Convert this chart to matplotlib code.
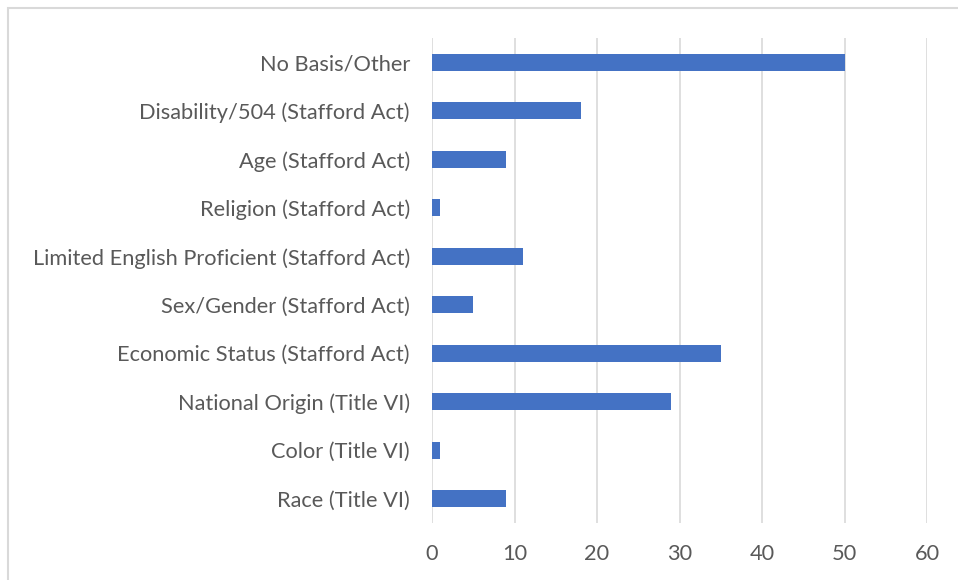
import matplotlib.pyplot as plt
from matplotlib.patches import Rectangle

categories = ["Race (Title VI)", "Color (Title VI)", "National Origin (Title VI)",
              "Economic Status (Stafford Act)", "Sex/Gender (Stafford Act)",
              "Limited English Proficient (Stafford Act)", "Religion (Stafford Act)",
              "Age (Stafford Act)", "Disability/504 (Stafford Act)", "No Basis/Other"]
counts = [9, 1, 29, 35, 5, 11, 1, 9, 18, 50]
xticks = [0, 10, 20, 30, 40, 50, 60]

plt.rcParams['font.family'] = ['Lato', 'DejaVu Sans']

fig = plt.figure(figsize=(9.58, 5.8), dpi=100)
ax = fig.add_axes([432/958, 1-523/580, (927-432)/958, (523-38)/580])

ax.barh(range(len(categories)), counts, height=0.36, color='#4472C4', zorder=3)

ax.set_xlim(0, 60)
ax.set_ylim(-0.5, len(categories)-0.5)
ax.set_xticks(xticks)
ax.set_yticks(range(len(categories)))
ax.set_yticklabels(categories)
ax.xaxis.grid(True, color='#D9D9D9', linewidth=1.2, zorder=0)
for s in ax.spines.values():
    s.set_visible(False)
ax.tick_params(axis='both', length=0, colors='#595959', labelsize=15.7)
ax.tick_params(axis='y', pad=16)
ax.tick_params(axis='x', pad=15)

# chart outline (only top/left visible in the crop)
fig.patches.append(Rectangle((8/958, -0.1), 1.1, 1.1-8/580, transform=fig.transFigure,
                             fill=False, edgecolor='#D9D9D9', linewidth=1.5))

plt.savefig('out.png', dpi=100)
